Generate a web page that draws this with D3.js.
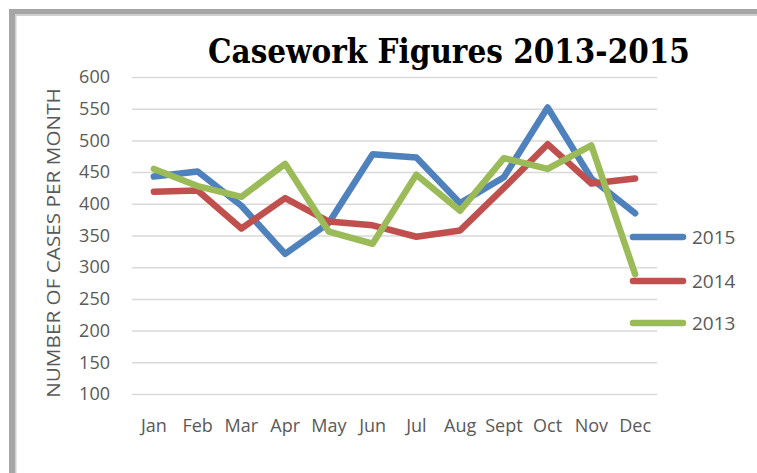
<!DOCTYPE html>
<html>
<head>
<meta charset="utf-8">
<script src="https://cdn.jsdelivr.net/npm/d3@7"></script>
<style>
  html, body { margin: 0; padding: 0; background: #fff; }
  svg { display: block; }
</style>
</head>
<body>
<svg id="chart" width="757" height="473"></svg>
<script>
const months = ["Jan","Feb","Mar","Apr","May","Jun","Jul","Aug","Sept","Oct","Nov","Dec"];
const s2015 = [443, 451, 397, 321, 370, 478, 473, 401, 442, 552, 440, 385];
const s2014 = [419, 421, 361, 409, 372, 366, 348, 358, 425, 494, 432, 440];
const s2013 = [455, 428, 411, 463, 356, 337, 446, 389, 472, 455, 492, 289];
const yTicks = [100,150,200,250,300,350,400,450,500,550,600];
const seriesNames = ["2015","2014","2013"];
const seriesColors = ["#4f81bd","#c0504d","#9bbb59"];
const title = "Casework Figures 2013-2015";
const yTitle = "NUMBER OF CASES PER MONTH";

const svg = d3.select("#chart");
const W = 757, H = 473;
const font = "'Open Sans', sans-serif";

// frame
svg.append("rect").attr("x", 0).attr("y", 0).attr("width", W).attr("height", H).attr("fill", "#fff");
svg.append("rect").attr("x", 9).attr("y", 9).attr("width", W - 9).attr("height", 5.5).attr("fill", "#a6a6a6");
svg.append("rect").attr("x", 9).attr("y", 9).attr("width", 6).attr("height", H - 9).attr("fill", "#a6a6a6");
svg.append("rect").attr("x", 15).attr("y", 14.5).attr("width", W - 15).attr("height", 1.5).attr("fill", "#d0d0d0");
svg.append("rect").attr("x", 15).attr("y", 14.5).attr("width", 1.5).attr("height", H - 14.5).attr("fill", "#d0d0d0");

const x = d3.scaleBand().domain(months).range([132, 657]);
const y = d3.scaleLinear().domain([100, 600]).range([394, 77]);
const cx = d => x(d) + x.bandwidth() / 2;

// gridlines
const grid = svg.append("g").attr("transform", "translate(132,0)")
  .call(d3.axisLeft(y).tickValues(yTicks).tickSize(-(657 - 132)).tickFormat(""));
grid.select(".domain").remove();
grid.selectAll(".tick line").attr("stroke", "#d9d9d9").attr("stroke-width", 1.5);

// y tick labels
const yAxis = svg.append("g").attr("transform", "translate(132,0)")
  .call(d3.axisLeft(y).tickValues(yTicks).tickSize(0).tickPadding(22));
yAxis.select(".domain").remove();
yAxis.selectAll("text").attr("fill", "#595959").attr("font-family", font).attr("font-size", 18);

// x tick labels
const xAxis = svg.append("g").attr("transform", "translate(0,394)")
  .call(d3.axisBottom(x).tickSize(0).tickPadding(25));
xAxis.select(".domain").remove();
xAxis.selectAll("text").attr("fill", "#595959").attr("font-family", font).attr("font-size", 18);

// lines
const allSeries = [s2015, s2014, s2013];
const line = d3.line().x((d, i) => cx(months[i])).y(d => y(d));
allSeries.forEach((s, k) => {
  svg.append("path").datum(s).attr("d", line)
    .attr("fill", "none").attr("stroke", seriesColors[k]).attr("stroke-width", 6.5)
    .attr("stroke-linejoin", "round").attr("stroke-linecap", "round");
});

// legend
const legY = [237, 281, 323];
seriesNames.forEach((n, k) => {
  svg.append("line").attr("x1", 633).attr("x2", 683).attr("y1", legY[k]).attr("y2", legY[k])
    .attr("stroke", seriesColors[k]).attr("stroke-width", 6.5).attr("stroke-linecap", "round");
  svg.append("text").attr("x", 692).attr("y", legY[k]).attr("dy", "0.36em")
    .attr("fill", "#595959").attr("font-family", font).attr("font-size", 19)
    .text(n);
});

// title (condensed by horizontal scaling to the reference width)
const tg = svg.append("g");
const tt = tg.append("text").attr("x", 0).attr("y", 0)
  .attr("font-family", "'DejaVu Serif', serif").attr("font-weight", "bold").attr("font-size", 34)
  .attr("fill", "#000").text(title);
const natural = tt.node().getComputedTextLength();
tg.attr("transform", `translate(208,63) scale(${482 / natural},1)`);

// y title
const yt = svg.append("g");
const ytt = yt.append("text").attr("x", 0).attr("y", 0)
  .attr("text-anchor", "middle").attr("dy", "0.36em")
  .attr("fill", "#595959").attr("font-family", font).attr("font-size", 19)
  .text(yTitle);
const yNat = ytt.node().getComputedTextLength();
yt.attr("transform", `translate(53,243) rotate(-90) scale(${310 / yNat},1)`);
</script>
</body>
</html>
